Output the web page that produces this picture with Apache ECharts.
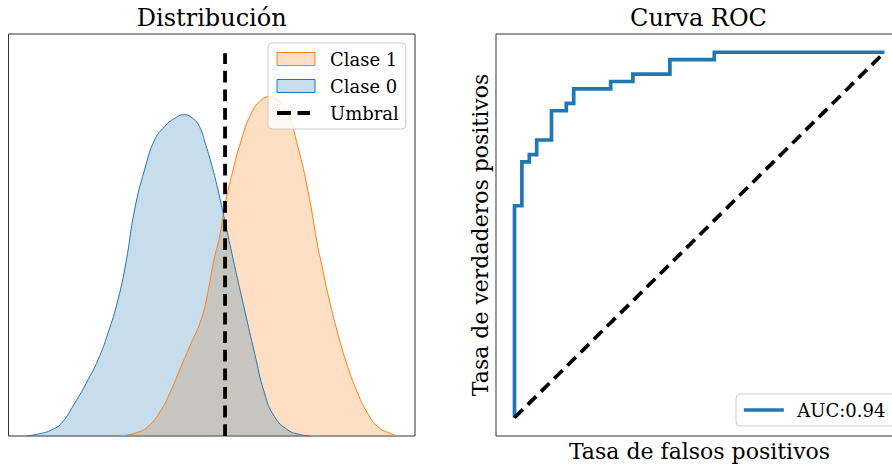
<!DOCTYPE html>
<html>
<head>
<meta charset="utf-8">
<script src="https://cdn.jsdelivr.net/npm/echarts@6/dist/echarts.min.js"></script>
<style>
  html, body { margin: 0; padding: 0; background: #ffffff; }
  #chart { width: 892px; height: 465px; }
</style>
</head>
<body>
<div id="chart"></div>
<script>
// Estimated score densities (x = score, y = density) for each class
const clase1X = [0.251, 0.291, 0.327, 0.363, 0.390, 0.417, 0.444, 0.471, 0.489, 0.504, 0.522, 0.535, 0.553, 0.580, 0.607, 0.634, 0.657, 0.679, 0.706, 0.733, 0.760, 0.787, 0.796, 0.814, 0.841, 0.868, 0.895, 0.922, 0.949, 0.986, 1.000];
const clase1Y = [0.000, 0.021, 0.073, 0.204, 0.360, 0.543, 0.726, 0.909, 1.118, 1.353, 1.574, 1.796, 2.031, 2.319, 2.528, 2.632, 2.658, 2.632, 2.528, 2.266, 1.927, 1.483, 1.363, 1.118, 0.804, 0.543, 0.334, 0.178, 0.073, 0.016, 0.000];
const clase0X = [0.000, 0.039, 0.066, 0.093, 0.129, 0.165, 0.192, 0.219, 0.246, 0.268, 0.291, 0.318, 0.345, 0.372, 0.399, 0.426, 0.449, 0.467, 0.484, 0.500, 0.517, 0.535, 0.559, 0.589, 0.616, 0.643, 0.670, 0.706, 0.738, 0.765];
const clase0Y = [0.000, 0.021, 0.047, 0.099, 0.256, 0.439, 0.595, 0.804, 1.065, 1.363, 1.770, 2.084, 2.318, 2.423, 2.488, 2.517, 2.488, 2.423, 2.279, 2.122, 1.927, 1.692, 1.371, 0.987, 0.648, 0.334, 0.151, 0.047, 0.012, 0.000];

// Decision threshold and the height of its marker line
const umbral = 0.536;
const umbralAltura = 3.0;

// ROC curve points
const fpr = [0, 0, 0.02, 0.02, 0.04, 0.04, 0.06, 0.06, 0.10, 0.10, 0.14, 0.14, 0.16, 0.16, 0.26, 0.26, 0.32, 0.32, 0.42, 0.42, 0.54, 0.54, 1.0];
const tpr = [0, 0.58, 0.58, 0.70, 0.70, 0.72, 0.72, 0.76, 0.76, 0.84, 0.84, 0.86, 0.86, 0.90, 0.90, 0.92, 0.92, 0.94, 0.94, 0.98, 0.98, 1.0, 1.0];
const auc = 0.94;

// Text
const tituloDist = 'Distribución';
const tituloRoc = 'Curva ROC';
const etiquetaX = 'Tasa de falsos positivos';
const etiquetaY = 'Tasa de verdaderos positivos';
const nombres = ['Clase 1', 'Clase 0', 'Umbral'];
const nombreAuc = 'AUC:' + auc.toFixed(2);

const FONT = 'DejaVu Serif';
const AZUL = '#1f77b4';
const NARANJA = '#ff7f0e';
const DASH = [11.8, 6.8];

const zip = (xs, ys) => xs.map((x, i) => [x, ys[i]]);

const chart = echarts.init(document.getElementById('chart'), null, { renderer: 'svg' });

const hiddenAxis = {
  axisLine: { show: false },
  axisTick: { show: false },
  axisLabel: { show: false },
  splitLine: { show: false }
};
const noSymbol = { color: 'rgba(0,0,0,0)', borderColor: 'rgba(0,0,0,0)', borderWidth: 0 };

chart.setOption({
  backgroundColor: '#ffffff',
  animation: false,
  title: [
    { text: tituloDist, left: 211.75, top: 6, textAlign: 'center', padding: 0,
      textStyle: { fontFamily: FONT, fontSize: 24, fontWeight: 'normal', color: '#000' } },
    { text: tituloRoc, left: 698.5, top: 6, textAlign: 'center', padding: 0,
      textStyle: { fontFamily: FONT, fontSize: 24, fontWeight: 'normal', color: '#000' } }
  ],
  grid: [
    { left: 8.5, top: 34, width: 406.5, height: 402, outerBoundsMode: 'none', containLabel: false,
      show: true, borderColor: '#333', borderWidth: 1, backgroundColor: 'transparent' },
    { left: 496, top: 34, width: 407, height: 402, outerBoundsMode: 'none', containLabel: false,
      show: true, borderColor: '#333', borderWidth: 1, backgroundColor: 'transparent' }
  ],
  xAxis: [
    Object.assign({ type: 'value', gridIndex: 0, min: -0.05, max: 1.05 }, hiddenAxis),
    Object.assign({ type: 'value', gridIndex: 1, min: -0.05, max: 1.05,
      name: etiquetaX, nameLocation: 'middle', nameGap: 4,
      nameTextStyle: { fontFamily: FONT, fontSize: 22, color: '#000' } }, hiddenAxis)
  ],
  yAxis: [
    Object.assign({ type: 'value', gridIndex: 0, min: 0, max: umbralAltura * 1.05 }, hiddenAxis),
    Object.assign({ type: 'value', gridIndex: 1, min: -0.05, max: 1.05,
      name: etiquetaY, nameLocation: 'middle', nameGap: 5, nameRotate: 90,
      nameTextStyle: { fontFamily: FONT, fontSize: 22, color: '#000' } }, hiddenAxis)
  ],
  legend: [
    {
      orient: 'vertical', left: 268, top: 43, z: 10,
      padding: [7, 7, 7, 7], itemGap: 9, itemWidth: 38, itemHeight: 13,
      backgroundColor: 'rgba(255,255,255,0.8)', borderColor: '#cccccc', borderWidth: 1, borderRadius: 4,
      textStyle: { fontFamily: FONT, fontSize: 18, color: '#000', lineHeight: 18, padding: [0, 0, 0, 10] },
      data: [
        { name: nombres[0], icon: 'rect', itemStyle: { color: 'rgba(255,127,14,0.25)', borderColor: NARANJA, borderWidth: 1 } },
        { name: nombres[1], icon: 'rect', itemStyle: { color: 'rgba(31,119,180,0.25)', borderColor: AZUL, borderWidth: 1 } },
        { name: nombres[2], itemStyle: noSymbol, lineStyle: { color: '#000', width: 4, type: [14, 6.5, 12.5, 10] } }
      ]
    },
    {
      orient: 'vertical', left: 736, top: 394, z: 10,
      padding: [7, 20, 7, 6], itemWidth: 40, itemHeight: 14,
      backgroundColor: 'rgba(255,255,255,0.8)', borderColor: '#cccccc', borderWidth: 1, borderRadius: 4,
      textStyle: { fontFamily: FONT, fontSize: 18, color: '#000', lineHeight: 18, padding: [0, 0, 0, 8.5] },
      data: [{ name: nombreAuc, itemStyle: noSymbol, lineStyle: { color: AZUL, width: 3.7, type: 'solid' } }]
    }
  ],
  series: [
    {
      name: nombres[0], type: 'line', xAxisIndex: 0, yAxisIndex: 0,
      data: zip(clase1X, clase1Y), symbol: 'none', smooth: 0.5,
      lineStyle: { color: NARANJA, width: 1 }, itemStyle: { color: NARANJA },
      areaStyle: { color: NARANJA, opacity: 0.25, origin: 'start' }
    },
    {
      name: nombres[1], type: 'line', xAxisIndex: 0, yAxisIndex: 0,
      data: zip(clase0X, clase0Y), symbol: 'none', smooth: 0.5,
      lineStyle: { color: AZUL, width: 1 }, itemStyle: { color: AZUL },
      areaStyle: { color: AZUL, opacity: 0.25, origin: 'start' }
    },
    {
      name: nombres[2], type: 'line', xAxisIndex: 0, yAxisIndex: 0,
      data: [[umbral, 0], [umbral, umbralAltura]], symbol: 'none',
      lineStyle: { color: '#000', width: 3.8, type: DASH, cap: 'butt' }, itemStyle: { color: '#000' }
    },
    {
      name: nombreAuc, type: 'line', xAxisIndex: 1, yAxisIndex: 1,
      data: zip(fpr, tpr), symbol: 'none',
      lineStyle: { color: AZUL, width: 3.7, join: 'miter' }, itemStyle: { color: AZUL }
    },
    {
      name: 'azar', type: 'line', xAxisIndex: 1, yAxisIndex: 1,
      data: [[0, 0], [1, 1]], symbol: 'none',
      lineStyle: { color: '#000', width: 3.7, type: DASH, cap: 'butt' }, itemStyle: { color: '#000' }
    }
  ]
});
</script>
</body>
</html>
